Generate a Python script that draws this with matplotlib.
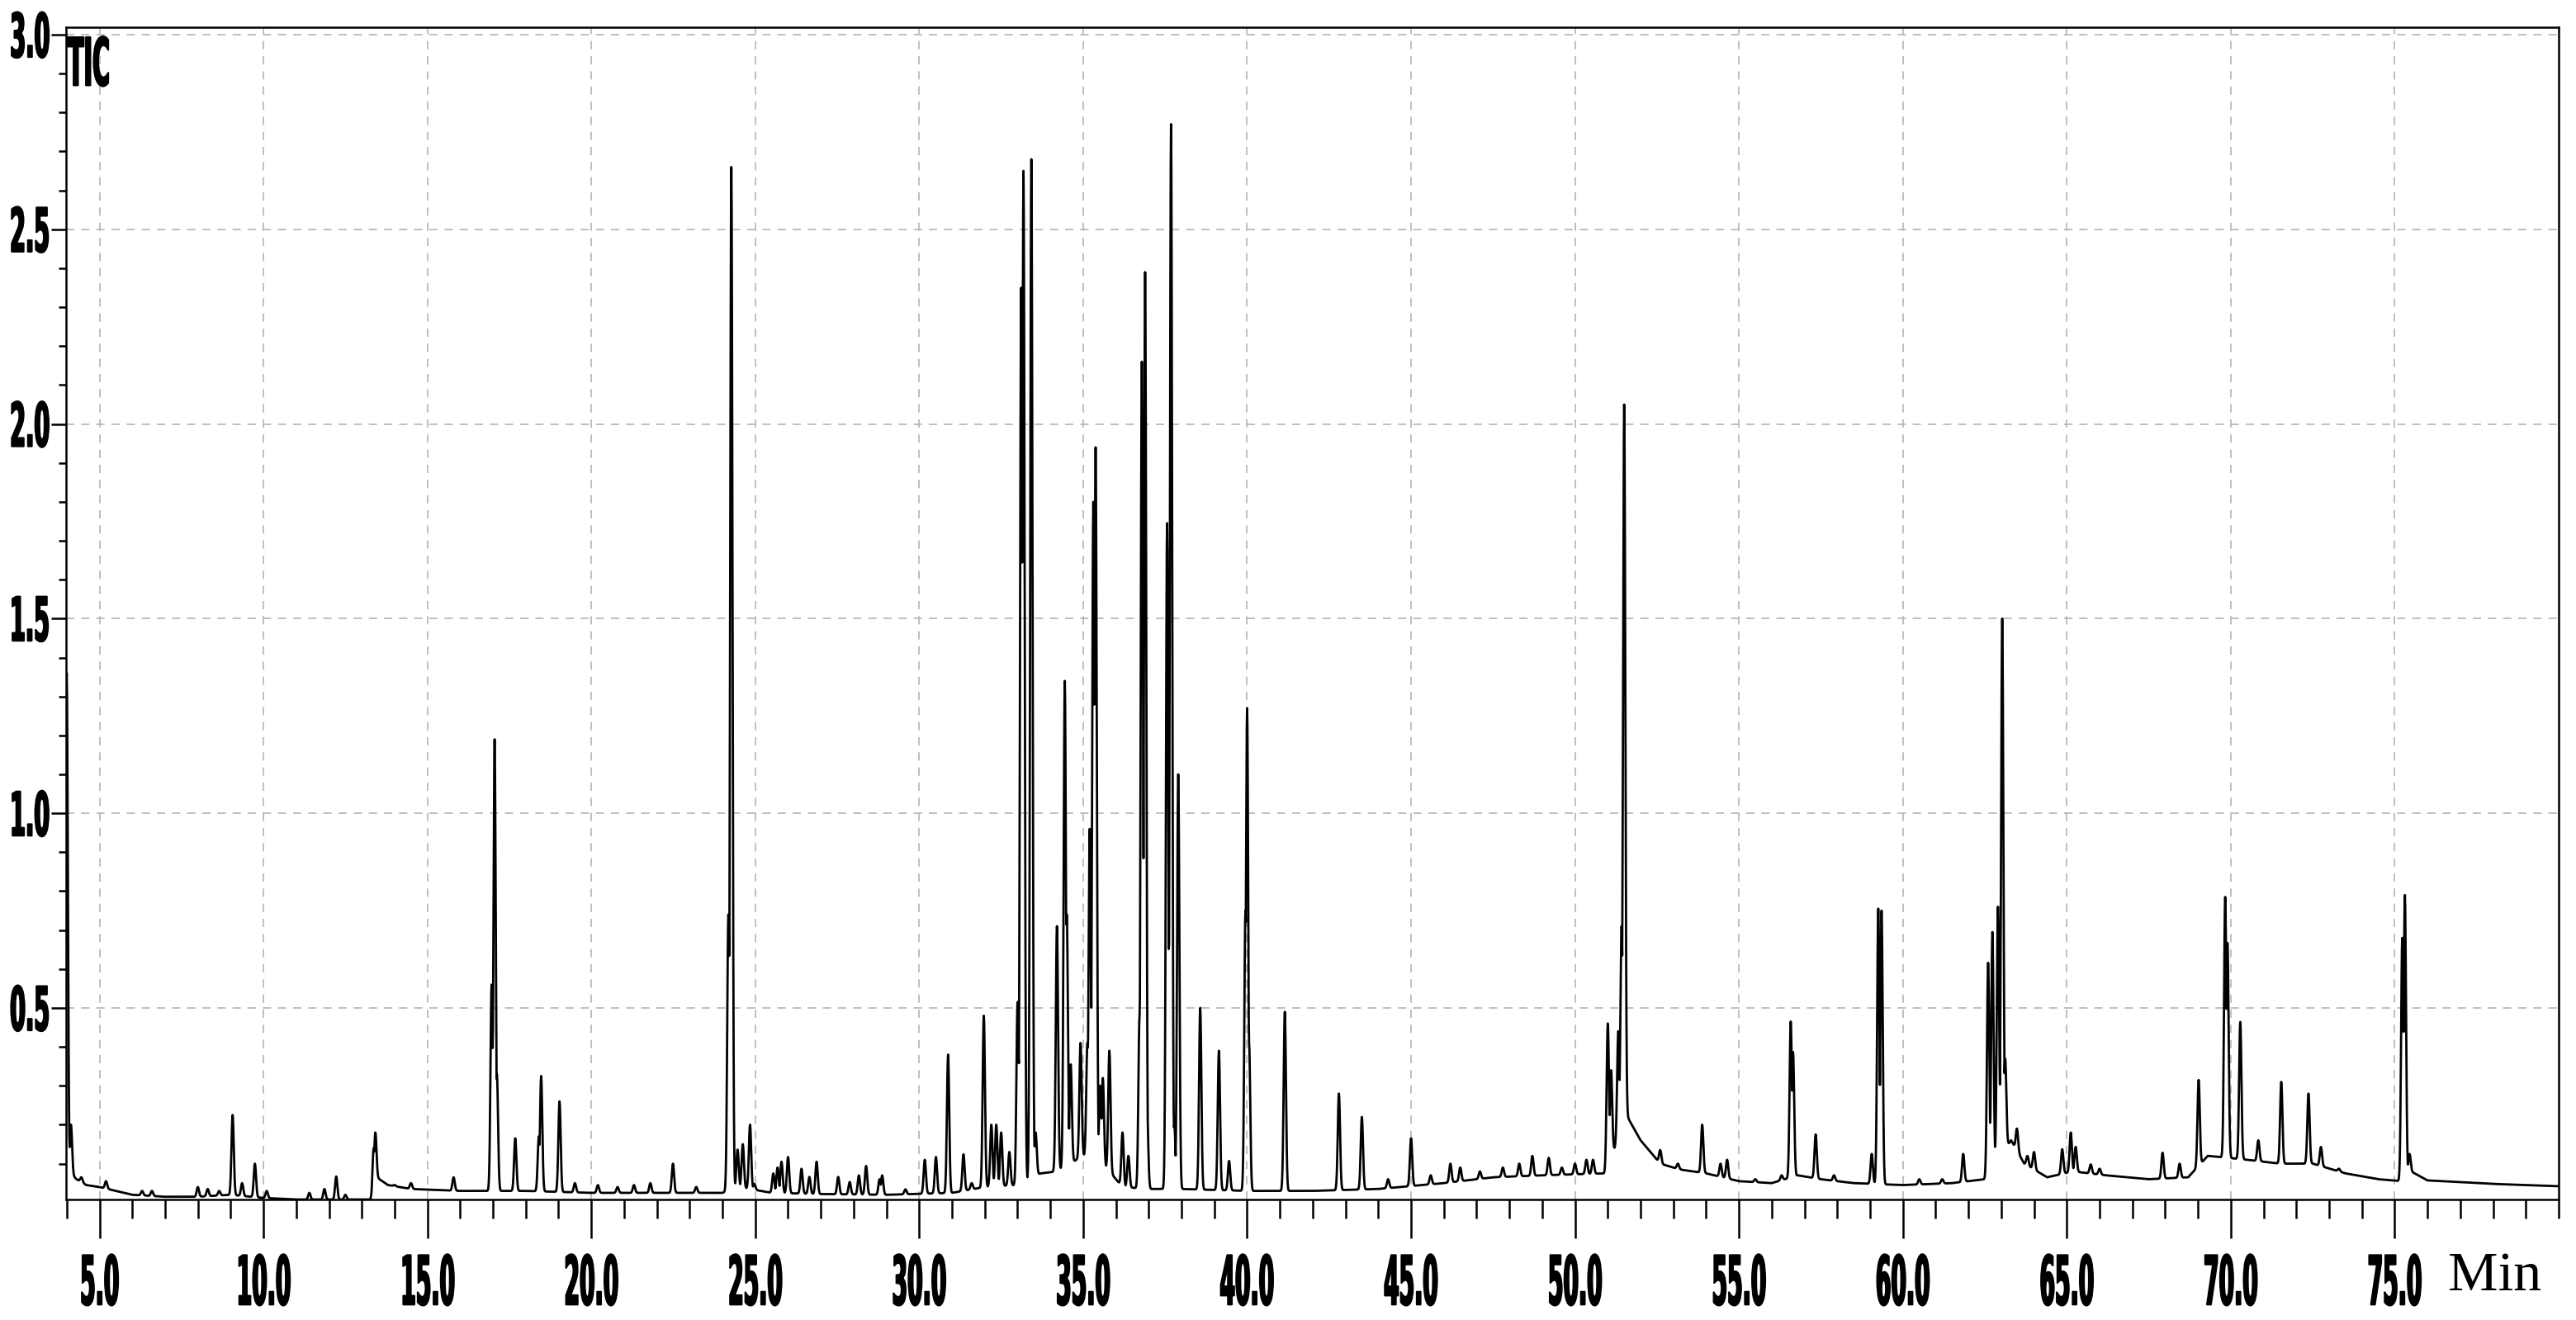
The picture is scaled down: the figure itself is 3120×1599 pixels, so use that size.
import numpy as np
import matplotlib
matplotlib.use("Agg")
import matplotlib.pyplot as plt
from matplotlib.patheffects import AbstractPathEffect
from matplotlib.transforms import Affine2D
from matplotlib.ticker import MultipleLocator

# peaks: retention time (min) and apex intensity
peak_time = [4.0, 4.13, 4.45, 5.2, 6.3, 6.6, 8.0, 8.3, 8.65, 9.06, 9.35, 9.74,
             10.1, 11.4, 11.86, 12.22, 12.5, 13.36, 13.41, 14.0, 14.5, 15.8,
             16.96, 17.05, 17.12, 17.68, 18.40, 18.47, 19.03, 19.5, 20.2, 20.8,
             21.3, 21.8, 22.49, 23.2, 24.18, 24.27, 24.46, 24.62, 24.84, 24.97,
             25.55, 25.68, 25.8, 26.0, 26.41, 26.65, 26.87, 27.53, 27.88, 28.16,
             28.38, 28.79, 28.87, 29.58, 30.17, 30.51, 30.88, 31.35, 31.6, 31.97,
             32.2, 32.35, 32.5, 32.75,
             33.0, 33.11, 33.18, 33.42, 33.55, 34.2, 34.44, 34.5, 34.62, 34.92,
             35.13, 35.2, 35.31, 35.38, 35.52, 35.6, 35.8, 36.2, 36.38, 36.72,
             36.79, 36.89, 36.95, 37.56, 37.68, 37.78, 37.9, 38.57, 39.14, 39.45,
             39.95, 40.0, 40.06, 41.15, 42.8, 43.5, 44.3, 45.0, 45.6, 46.2, 46.5,
             47.1, 47.8, 48.3, 48.7, 49.2, 49.6, 50.0, 50.35, 50.55, 51.0, 51.1,
             51.32, 51.42, 51.5, 52.0, 52.6, 53.14, 53.88, 54.44, 54.64, 55.5,
             56.3, 56.58, 56.65, 57.34, 57.9, 59.05, 59.25, 59.35, 60.5, 61.2,
             61.84, 62.6, 62.73, 62.9, 63.03, 63.12, 63.48, 63.8, 64.0, 64.86,
             65.12, 65.27, 65.73, 66.0, 67.92, 68.44, 69.02, 69.83, 69.9, 70.29,
             70.84, 71.54, 72.37, 72.75, 73.3, 75.23, 75.31, 75.45]
peak_height = [1.36, 0.20, 0.065, 0.055, 0.03, 0.03, 0.04, 0.035, 0.03, 0.225, 0.05, 0.10,
               0.03, 0.025, 0.035, 0.067, 0.02, 0.14, 0.18, 0.045, 0.05, 0.065,
               0.56, 1.19, 0.33, 0.165, 0.17, 0.325, 0.26, 0.05, 0.045, 0.04,
               0.045, 0.05, 0.10, 0.04, 0.74, 2.66, 0.136, 0.15, 0.20, 0.048,
               0.075, 0.09, 0.105, 0.117, 0.087, 0.066, 0.105, 0.066, 0.053, 0.07,
               0.094, 0.06, 0.07, 0.034, 0.11, 0.117, 0.38, 0.124, 0.05, 0.48,
               0.20, 0.20, 0.18, 0.13,
               0.515, 2.35, 2.65, 2.68, 0.18, 0.71, 1.34, 0.74, 0.355, 0.41,
               0.41, 0.96, 1.80, 1.94, 0.30, 0.32, 0.39, 0.18, 0.12, 0.48,
               2.16, 2.39, 0.23, 1.745, 2.77, 0.20, 1.10, 0.50, 0.39, 0.107,
               0.75, 1.27, 0.41, 0.49, 0.28, 0.22, 0.06, 0.165, 0.07, 0.10, 0.09,
               0.08, 0.09, 0.10, 0.12, 0.115, 0.09, 0.10, 0.11, 0.11, 0.46, 0.34,
               0.44, 0.71, 2.05, 0.15, 0.135, 0.10, 0.20, 0.10, 0.11, 0.06,
               0.07, 0.465, 0.387, 0.175, 0.07, 0.125, 0.755, 0.75, 0.06, 0.06,
               0.125, 0.616, 0.695, 0.76, 1.50, 0.37, 0.19, 0.12, 0.13, 0.137,
               0.18, 0.143, 0.098, 0.087, 0.128, 0.10, 0.315, 0.785, 0.667, 0.464,
               0.16, 0.31, 0.28, 0.143, 0.087, 0.68, 0.79, 0.125]

# slowly varying baseline under the peaks
base_time = [3.98, 4.05, 4.3, 4.6, 5.0, 5.5, 6.0, 7.0, 8.0, 9.0, 10.0, 11.0, 12.0,
             13.3, 13.45, 13.8, 14.5, 16.0, 18.0, 20.0, 22.0, 24.0, 24.5, 25.5,
             27.0, 29.0, 31.0, 32.0, 33.0, 33.7, 34.2, 35.0, 35.6, 36.2, 37.0,
             38.0, 40.0, 42.0, 44.0, 46.0, 47.5, 49.0, 50.9, 51.6, 52.0, 52.6,
             53.2, 54.0, 55.0, 56.0, 56.8, 57.5, 58.5, 60.0, 61.5, 62.5, 63.3,
             63.7, 64.4, 65.2, 66.2, 67.5, 68.7, 69.3, 70.5, 71.5, 72.5, 73.5,
             74.5, 75.2, 75.5, 76.0, 78.0, 80.0]
base_level = [0.12, 0.08, 0.06, 0.045, 0.04, 0.03, 0.02, 0.015, 0.015, 0.02, 0.012, 0.008, 0.008,
              0.008, 0.065, 0.045, 0.035, 0.03, 0.03, 0.025, 0.025, 0.025, 0.04, 0.025,
              0.022, 0.02, 0.025, 0.04, 0.045, 0.075, 0.08, 0.12, 0.10, 0.04, 0.035,
              0.035, 0.03, 0.03, 0.035, 0.05, 0.065, 0.07, 0.075, 0.22, 0.16, 0.10,
              0.085, 0.075, 0.055, 0.05, 0.07, 0.06, 0.05, 0.045, 0.05, 0.06, 0.16,
              0.10, 0.065, 0.08, 0.07, 0.06, 0.065, 0.12, 0.11, 0.10, 0.10, 0.075,
              0.06, 0.055, 0.08, 0.057, 0.048, 0.042]

xticks = [5.0, 10.0, 15.0, 20.0, 25.0, 30.0, 35.0, 40.0, 45.0, 50.0, 55.0, 60.0, 65.0, 70.0, 75.0]
xtick_labels = ["5.0", "10.0", "15.0", "20.0", "25.0", "30.0", "35.0", "40.0",
                "45.0", "50.0", "55.0", "60.0", "65.0", "70.0", "75.0"]
yticks = [0.5, 1.0, 1.5, 2.0, 2.5, 3.0]
ytick_labels = ["0.5", "1.0", "1.5", "2.0", "2.5", "3.0"]


class Squeeze(AbstractPathEffect):
    # narrow + tall heavy glyphs, like the condensed font of the instrument software
    def __init__(self, sx, sy, fx=0.5, fy=0.5, lw=1.5):
        super().__init__()
        self.sx, self.sy, self.fx, self.fy, self.lw = sx, sy, fx, fy, lw

    def draw_path(self, renderer, gc, tpath, affine, rgbFace=None):
        ext = tpath.get_extents()
        px = ext.x0 + self.fx * ext.width
        py = ext.y0 + self.fy * ext.height
        sq = Affine2D().translate(-px, -py).scale(self.sx, self.sy).translate(px, py)
        gc0 = renderer.new_gc()
        gc0.copy_properties(gc)
        gc0.set_linewidth(self.lw)
        gc0.set_foreground(rgbFace)
        renderer.draw_path(gc0, tpath, (sq + affine).frozen(), rgbFace)
        gc0.restore()


# build the trace: baseline plus narrow peaks
t = np.arange(3.9, 80.05, 0.01)
base = np.interp(t, base_time, base_level)
trace = base.copy()
for tp, hp in zip(peak_time, peak_height):
    b = np.interp(tp, base_time, base_level)
    trace = np.maximum(trace, base + (hp - b) * np.exp(-0.5 * ((t - tp) / 0.035) ** 2))

W, H = 3120, 1599
fig = plt.figure(figsize=(W / 100, H / 100), dpi=100)
ax = fig.add_axes([80 / W, (H - 1453) / H, 3019 / W, 1420 / H])

ax.plot(t, trace, color="black", lw=2.0)
ax.set_xlim(3.98, 80.0)
ax.set_ylim(0.008, 3.019)

ax.set_xticks(xticks, xtick_labels)
ax.set_yticks(yticks, ytick_labels)
ax.xaxis.set_minor_locator(MultipleLocator(1.0))
ax.yaxis.set_minor_locator(MultipleLocator(0.1))
ax.tick_params(axis="x", which="major", length=34, width=1.8, pad=13, labelsize=32)
ax.tick_params(axis="x", which="minor", length=16.5, width=1.8)
ax.tick_params(axis="y", which="major", length=13, width=1.8, pad=1, labelsize=23)
ax.tick_params(axis="y", which="minor", length=6.5, width=1.8)
for lab in ax.get_xticklabels():
    lab.set_fontweight("bold")
    lab.set_path_effects([Squeeze(0.6, 1.85, 0.5, 1.0)])
for lab in ax.get_yticklabels():
    lab.set_fontweight("bold")
    lab.set_path_effects([Squeeze(0.85, 2.3, 1.0, 0.5)])

ax.grid(True, which="major", color="#b4b4b4", linestyle=(0, (6, 5)), linewidth=1.2)
ax.set_axisbelow(True)
for s in ax.spines.values():
    s.set_linewidth(1.8)

fig.text(82 / W, 1 - 43 / H, "TIC", ha="left", va="top", fontsize=32, fontweight="bold",
         path_effects=[Squeeze(0.64, 1.8, 0.0, 1.0)])
fig.text(2965 / W, 1 - 1563 / H, "Min", ha="left", va="baseline", fontsize=49,
         family=["Liberation Serif", "DejaVu Serif"])

fig.savefig("out.png", dpi=100)
